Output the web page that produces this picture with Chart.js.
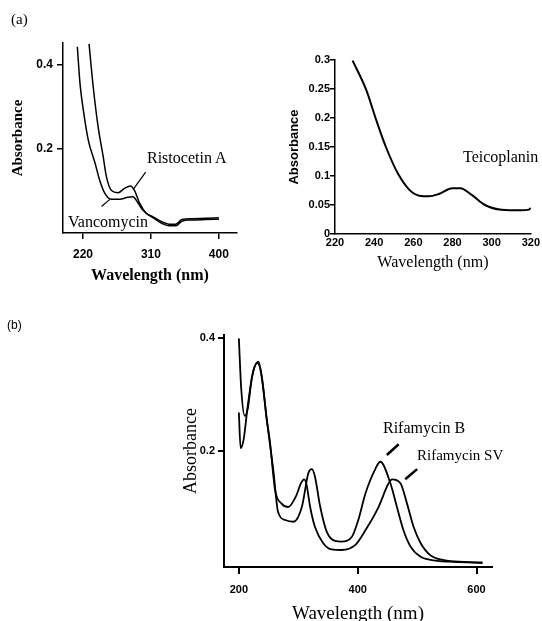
<!DOCTYPE html>
<html>
<head>
<meta charset="utf-8">
<script src="https://cdn.jsdelivr.net/npm/chart.js@4/dist/chart.umd.min.js"></script>
<style>
  body { margin: 0; background: #fff; }
  #page { position: relative; width: 542px; height: 621px; overflow: hidden; background: #fff; }
  #page canvas { position: absolute; }
  .lbl { position: absolute; font-family: "Liberation Serif", serif; font-size: 16px; line-height: 20px; color: #000; white-space: nowrap; }
</style>
</head>
<body>
<div id="page">
  <canvas id="chartA1" width="270" height="290" style="left:0;top:0"></canvas>
  <canvas id="chartA2" width="272" height="290" style="left:270px;top:0"></canvas>
  <canvas id="chartB" width="392" height="321" style="left:150px;top:300px"></canvas>

  <div class="lbl" style="left:11px;top:9px;font-size:15px">(a)</div>
  <div class="lbl" style="left:147px;top:148px">Ristocetin A</div>
  <div class="lbl" style="left:68px;top:212px">Vancomycin</div>
  <div class="lbl" style="left:463px;top:147px">Teicoplanin</div>
  <div class="lbl" style="left:7px;top:315px;font-family:'Liberation Sans',sans-serif;font-size:12px">(b)</div>
  <div class="lbl" style="left:383px;top:418px">Rifamycin B</div>
  <div class="lbl" style="left:417px;top:445px;font-size:15px">Rifamycin SV</div>
</div>

<script>
// panel (a) left : glycopeptides
const ristoWl  = [228, 233.5, 240, 246.7, 251, 257.7, 266.4, 275, 282.7, 288.3, 295, 303.7, 312.4, 325.5, 334, 343, 351, 364.5, 382.5, 400];
const ristoAbs = [0.45, 0.348, 0.253, 0.182, 0.134, 0.101, 0.096, 0.106, 0.112, 0.101, 0.071, 0.047, 0.039, 0.026, 0.021, 0.021, 0.032, 0.034, 0.035, 0.036];
const vancoWl  = [212.5, 216, 220.4, 227, 236, 242, 249, 257.7, 268.6, 279.5, 286, 292.7, 299, 306, 313, 325.5, 334, 343, 351, 364.5, 382.5, 400];
const vancoAbs = [0.443, 0.356, 0.293, 0.221, 0.166, 0.126, 0.094, 0.080, 0.080, 0.085, 0.086, 0.072, 0.055, 0.044, 0.036, 0.022, 0.017, 0.017, 0.028, 0.031, 0.032, 0.033];
const ristoLead = [[287, 0.105], [303, 0.145]];
const vancoLead = [[244.6, 0.063], [255.5, 0.080]];
const xTicksA1 = [220, 310, 400];
const yTicksA1 = [0.2, 0.4];

// panel (a) right : teicoplanin
const teicoWl  = [229, 236, 241, 246, 252, 258, 263, 268, 273, 280, 284, 290, 296.6, 305, 315, 319, 320];
const teicoAbs = [0.299, 0.248, 0.197, 0.150, 0.105, 0.076, 0.066, 0.065, 0.069, 0.079, 0.079, 0.067, 0.050, 0.042, 0.041, 0.042, 0.045];
const xTicksA2 = [220, 240, 260, 280, 300, 320];
const yTicksA2 = [0, 0.05, 0.1, 0.15, 0.2, 0.25, 0.3];

// panel (b) : rifamycins
const rifBWl  = [200, 204, 210, 215, 222, 231, 238, 247, 258, 266, 278, 292, 306, 317, 323, 328, 337, 348, 362, 373, 390, 401, 413, 430, 438, 455, 466, 477, 489, 506, 534, 562, 610];
const rifBAbs = [0.399, 0.31, 0.262, 0.275, 0.33, 0.356, 0.335, 0.255, 0.166, 0.092, 0.078, 0.075, 0.101, 0.161, 0.168, 0.155, 0.101, 0.057, 0.041, 0.040, 0.048, 0.078, 0.125, 0.169, 0.181, 0.143, 0.101, 0.060, 0.031, 0.013, 0.006, 0.004, 0.002];
const rifSVWl  = [200, 203, 208, 215, 224, 233, 240, 247, 252, 261, 272, 283, 297, 304, 310, 314, 320, 328, 342, 356, 373, 396, 413, 435, 452, 458, 472, 483, 494, 506, 522, 545, 579, 610];
const rifSVAbs = [0.268, 0.205, 0.22, 0.28, 0.34, 0.358, 0.32, 0.255, 0.219, 0.131, 0.107, 0.101, 0.122, 0.142, 0.150, 0.140, 0.101, 0.066, 0.037, 0.026, 0.025, 0.034, 0.060, 0.101, 0.143, 0.150, 0.143, 0.107, 0.066, 0.037, 0.016, 0.007, 0.004, 0.003];
const rifBLead  = [[449, 0.193], [469, 0.212]];
const rifSVLead = [[480, 0.150], [500, 0.168]];
const xTicksB = [200, 400, 600];
const yTicksB = [0.2, 0.4];

function toPoints(xs, ys) {
  return xs.map((x, i) => ({ x: x, y: ys[i] }));
}

function curve(xs, ys, width) {
  return { data: toPoints(xs, ys), borderColor: "#000", borderWidth: width, pointRadius: 0, cubicInterpolationMode: "monotone", fill: false };
}

function lead(pts, width) {
  return { data: pts.map(p => ({ x: p[0], y: p[1] })), borderColor: "#000", borderWidth: width, pointRadius: 0, fill: false };
}

// builds one axis; s = settings for that axis
function axis(s) {
  return {
    type: "linear",
    min: s.min,
    max: s.max,
    afterBuildTicks: a => { a.ticks = s.ticks.map(v => ({ value: v })); },
    afterFit: a => { if (s.height) a.height = s.height; if (s.width) a.width = s.width; },
    grid: { display: s.tick > 0, drawOnChartArea: false, drawTicks: s.tick > 0, tickLength: s.tick, color: "#000", lineWidth: s.line },
    border: { display: true, color: "#000", width: s.line },
    ticks: {
      color: "#000", padding: s.pad, autoSkip: false, maxRotation: 0,
      font: { family: "Liberation Sans", size: s.tickSize, weight: "bold" },
      callback: v => String(+v.toFixed(2))
    },
    title: {
      display: true, text: s.title, color: "#000",
      font: s.titleFont,
      padding: s.titlePad
    }
  };
}

function makeChart(id, datasets, padding, xs, ys) {
  return new Chart(document.getElementById(id), {
    type: "line",
    data: { datasets: datasets },
    options: {
      responsive: false,
      animation: false,
      layout: { padding: padding, autoPadding: false },
      plugins: { legend: { display: false }, tooltip: { enabled: false } },
      scales: { x: axis(xs), y: axis(ys) }
    }
  });
}

makeChart("chartA1",
  [curve(ristoWl, ristoAbs, 1.5), curve(vancoWl, vancoAbs, 1.5), lead(ristoLead, 1.2), lead(vancoLead, 1.2)],
  { left: 0, top: 43, right: 33, bottom: 0 },
  { min: 193.5, max: 424, ticks: xTicksA1, height: 57, tick: 6, pad: 8, line: 1.5, tickSize: 12,
    title: "Wavelength (nm)", titleFont: { family: "Liberation Serif", size: 16, weight: "bold" }, titlePad: { top: 0, bottom: 5 } },
  { min: 0, max: 0.452, ticks: yTicksA1, width: 63, tick: 6, pad: 4, line: 1.5, tickSize: 12,
    title: "Absorbance", titleFont: { family: "Liberation Serif", size: 15, weight: "bold" }, titlePad: { top: 9, bottom: 0 } }
);

makeChart("chartA2",
  [curve(teicoWl, teicoAbs, 2)],
  { left: 0, top: 60, right: 9, bottom: 0 },
  { min: 220, max: 320, ticks: xTicksA2, height: 56, tick: 0, pad: 2, line: 1.5, tickSize: 11,
    title: "Wavelength (nm)", titleFont: { family: "Liberation Serif", size: 16 }, titlePad: { top: 0, bottom: 18 } },
  { min: 0, max: 0.3, ticks: yTicksA2, width: 65, tick: 5, pad: 0, line: 1.5, tickSize: 11,
    title: "Absorbance", titleFont: { family: "Liberation Sans", size: 13, weight: "bold" }, titlePad: { top: 17, bottom: 0 } }
);

makeChart("chartB",
  [curve(rifBWl, rifBAbs, 1.8), curve(rifSVWl, rifSVAbs, 1.8), lead(rifBLead, 2.5), lead(rifSVLead, 2.5)],
  { left: 0, top: 35, right: 50, bottom: 0 },
  { min: 175, max: 626, ticks: xTicksB, height: 54, tick: 7, pad: 9, line: 2, tickSize: 11,
    title: "Wavelength (nm)", titleFont: { family: "Liberation Serif", size: 19, lineHeight: 1 }, titlePad: { top: 0, bottom: -3 } },
  { min: -0.005, max: 0.405, ticks: yTicksB, width: 74, tick: 6, pad: 3, line: 2, tickSize: 11,
    title: "Absorbance", titleFont: { family: "Liberation Serif", size: 18 }, titlePad: { top: 30, bottom: 0 } }
);
</script>
</body>
</html>
